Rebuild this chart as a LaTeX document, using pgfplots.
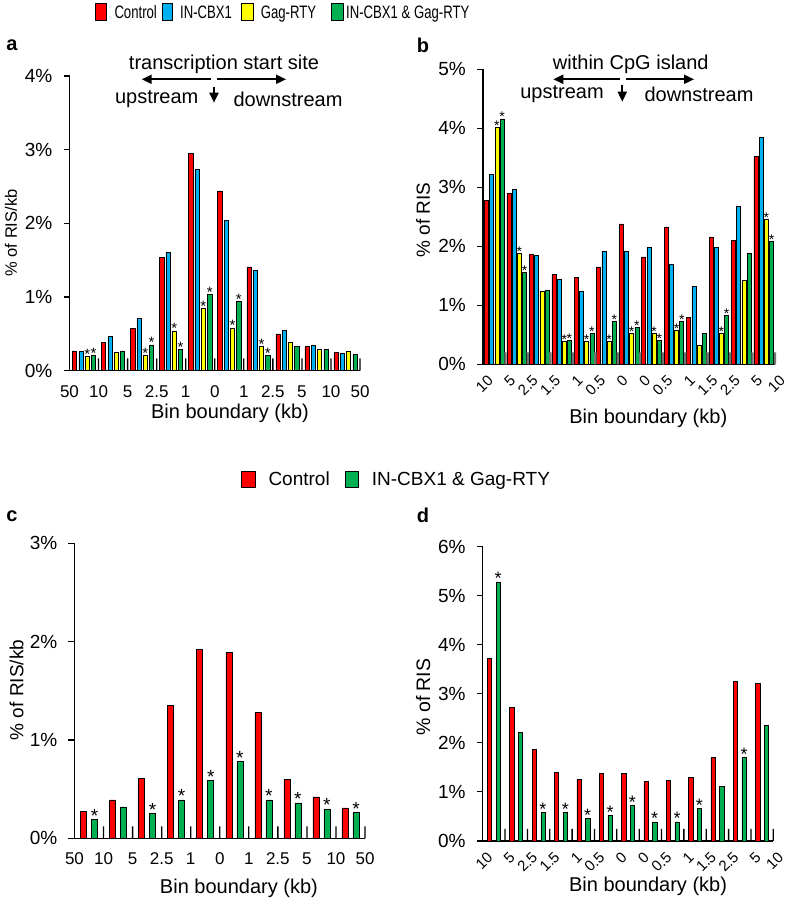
\documentclass[border=0pt]{standalone}
\usepackage{fontspec}
\setmainfont{Liberation Sans}
\usepackage{graphicx}
\usepackage{pgfplots}
\pgfplotsset{compat=1.18}
\usetikzlibrary{arrows.meta}
\definecolor{ctrl}{HTML}{FF0000}
\definecolor{cbx}{HTML}{00B0F0}
\definecolor{gag}{HTML}{FFFF00}
\definecolor{both}{HTML}{00B050}
\newcommand\fs[1]{\fontsize{#1}{#1}\selectfont}

\pgfplotsset{
  panel/.style={
    scale only axis, clip=false,
    axis x line*=bottom, axis y line*=left,
    xmin=0, ymin=0,
    axis line style={line width=1.1pt},
    tick style={black, line width=1.1pt},
    tick align=outside, major tick length=6pt,
    xtick style={draw=none},
    /pgf/number format/assume math mode=true,
    yticklabel style={font=\fs{19}, anchor=east, inner sep=0pt, xshift=-11pt},
    xticklabel style={font=\fs{17}, anchor=north, inner sep=0pt, yshift=-8.5pt},
    xlabel style={font=\fs{20}, anchor=center},
    ylabel style={anchor=center},
  },
  rotlabels/.style={
    xticklabel style={font=\fs{15}, rotate=45, anchor=north east, inner sep=0pt, xshift=6pt, yshift=1pt},
  },
  bars/.style 2 args={ybar, draw=black, line width=0.5pt, fill=#1, bar shift=#2,
    nodes near coords, point meta=explicit symbolic,
    every node near coord/.append style={anchor=south, inner sep=0pt, yshift=-3.2pt, xshift=#2, black}},
  sep/.style={ybar, bar shift=0pt, draw=none, forget plot},
}

\begin{document}
\begin{tikzpicture}
\useasboundingbox (0pt,0pt) rectangle (787pt,901pt);

% legend, top
\draw[fill=ctrl, line width=0.6pt] (95pt,881pt) rectangle (106pt,897.7pt);
\node[anchor=base west, inner sep=0pt, font=\fs{18}] at (114.3pt,882.6pt) {\scalebox{0.73}[1]{Control}};
\draw[fill=cbx, line width=0.6pt] (162.3pt,881pt) rectangle (172.7pt,897.7pt);
\node[anchor=base west, inner sep=0pt, font=\fs{18}] at (180pt,882.6pt) {\scalebox{0.73}[1]{IN-CBX1}};
\draw[fill=gag, line width=0.6pt] (241.7pt,881pt) rectangle (253.3pt,897.7pt);
\node[anchor=base west, inner sep=0pt, font=\fs{18}] at (260.7pt,882.6pt) {\scalebox{0.73}[1]{Gag-RTY}};
\draw[fill=both, line width=0.6pt] (331.7pt,881pt) rectangle (343.3pt,897.7pt);
\node[anchor=base west, inner sep=0pt, font=\fs{18}] at (346pt,882.6pt) {\scalebox{0.73}[1]{IN-CBX1 \& Gag-RTY}};

% panel a
\begin{axis}[panel, at={(69.5pt,530.3pt)}, anchor=south west,
  width=290.5pt, height=294.7pt, xmax=10, ymax=4,
  ytick={0,1,2,3,4}, yticklabels={0\%,1\%,2\%,3\%,4\%},
  xtick={0,...,10}, xticklabels={50,10,5,2.5,1,0,1,2.5,5,10,50},
  xlabel={Bin boundary (kb)}, xlabel style={at={(axis description cs:0.5525,-0.143)}},
  ylabel={\% of RIS/kb}, ylabel style={font=\fs{16.5}, at={(axis description cs:-0.2014,0.4673)}},
  every node near coord/.append style={font=\fs{15}},
]
\addplot[bars={ctrl}{-9.45pt}, bar width=4.2pt] coordinates {
 (0.5,0.27) [] (1.5,0.38) [] (2.5,0.57) [] (3.5,1.54) [] (4.5,2.95) []
 (5.5,2.44) [] (6.5,1.41) [] (7.5,0.50) [] (8.5,0.33) [] (9.5,0.25) []};
\addplot[bars={cbx}{-3.15pt}, bar width=4.2pt] coordinates {
 (0.5,0.26) [] (1.5,0.47) [] (2.5,0.71) [] (3.5,1.61) [] (4.5,2.73) []
 (5.5,2.04) [] (6.5,1.36) [] (7.5,0.55) [] (8.5,0.34) [] (9.5,0.24) []};
\addplot[bars={gag}{3.15pt}, bar width=4.2pt] coordinates {
 (0.5,0.19) [*] (1.5,0.25) [] (2.5,0.21) [*] (3.5,0.54) [*] (4.5,0.85) [*]
 (5.5,0.58) [*] (6.5,0.33) [*] (7.5,0.39) [] (8.5,0.29) [] (9.5,0.27) []};
\addplot[bars={both}{9.45pt}, bar width=4.2pt] coordinates {
 (0.5,0.21) [*] (1.5,0.27) [] (2.5,0.35) [*] (3.5,0.29) [*] (4.5,1.04) [*]
 (5.5,0.94) [*] (6.5,0.21) [*] (7.5,0.33) [] (8.5,0.29) [] (9.5,0.22) []};
\addplot[sep, fill=black, bar width=1.3pt] coordinates {
 (1,0.167) (2,0.167) (3,0.167) (4,0.167) (5,0.167) (6,0.167) (7,0.167) (8,0.167) (9,0.167) (10,0.167)};
\end{axis}

% panel b
\begin{axis}[panel, rotlabels, at={(483pt,536.7pt)}, anchor=south west,
  width=292pt, height=295pt, xmax=13, ymax=5,
  ytick={0,1,2,3,4,5}, yticklabels={0\%,1\%,2\%,3\%,4\%,5\%},
  xtick={0,...,13}, xticklabels={10,5,2.5,1.5,1,0.5,0,0,0.5,1,1.5,2.5,5,10},
  xlabel={Bin boundary (kb)}, xlabel style={at={(axis description cs:0.566,-0.183)}},
  ylabel={\% of RIS}, ylabel style={font=\fs{19}, at={(axis description cs:-0.2055,0.489)}},
  every node near coord/.append style={font=\fs{14}},
]
\addplot[bars={ctrl}{-7.8pt}, bar width=4pt] coordinates {
 (0.5,2.78) [] (1.5,2.90) [] (2.5,1.87) [] (3.5,1.53) [] (4.5,1.47) [] (5.5,1.65) [] (6.5,2.38) []
 (7.5,1.82) [] (8.5,2.33) [] (9.5,0.80) [] (10.5,2.16) [] (11.5,2.10) [] (12.5,3.53) []};
\addplot[bars={cbx}{-2.6pt}, bar width=4pt] coordinates {
 (0.5,3.22) [] (1.5,2.97) [] (2.5,1.84) [] (3.5,1.44) [] (4.5,1.23) [] (5.5,1.92) [] (6.5,1.92) []
 (7.5,1.98) [] (8.5,1.69) [] (9.5,1.32) [] (10.5,1.98) [] (11.5,2.68) [] (12.5,3.85) []};
\addplot[bars={gag}{2.6pt}, bar width=4pt] coordinates {
 (0.5,4.02) [*] (1.5,1.88) [*] (2.5,1.24) [] (3.5,0.39) [*] (4.5,0.39) [*] (5.5,0.39) [*] (6.5,0.52) [*]
 (7.5,0.52) [*] (8.5,0.58) [*] (9.5,0.32) [] (10.5,0.52) [*] (11.5,1.43) [] (12.5,2.46) [*]};
\addplot[bars={both}{7.8pt}, bar width=4pt] coordinates {
 (0.5,4.16) [*] (1.5,1.56) [*] (2.5,1.25) [] (3.5,0.41) [*] (4.5,0.52) [*] (5.5,0.73) [*] (6.5,0.62) [*]
 (7.5,0.41) [*] (8.5,0.73) [*] (9.5,0.52) [] (10.5,0.83) [*] (11.5,1.88) [] (12.5,2.08) [*]};
\addplot[sep, fill=black!55, bar width=2.4pt] coordinates {
 (1,0.2) (2,0.2) (3,0.2) (4,0.2) (5,0.2) (6,0.2) (7,0.2) (8,0.2) (9,0.2) (10,0.2) (11,0.2) (12,0.2) (13,0.2)};
\end{axis}

% panel c
\begin{axis}[panel, at={(74.5pt,62.7pt)}, anchor=south west,
  width=290.5pt, height=295pt, xmax=10, ymax=3,
  ytick={0,1,2,3}, yticklabels={0\%,1\%,2\%,3\%},
  xtick={0,...,10}, xticklabels={50,10,5,2.5,1,0,1,2.5,5,10,50},
  xlabel={Bin boundary (kb)}, xlabel style={at={(axis description cs:0.566,-0.1695)}},
  ylabel={\% of RIS/kb}, ylabel style={font=\fs{19}, at={(axis description cs:-0.199,0.5027)}},
  every node near coord/.append style={font=\fs{19}},
]
\addplot[bars={ctrl}{-5.5pt}, bar width=6pt] coordinates {
 (0.5,0.27) [] (1.5,0.39) [] (2.5,0.61) [] (3.5,1.35) [] (4.5,1.92) []
 (5.5,1.89) [] (6.5,1.28) [] (7.5,0.60) [] (8.5,0.42) [] (9.5,0.31) []};
\addplot[bars={both}{5.5pt}, bar width=6pt] coordinates {
 (0.5,0.19) [*] (1.5,0.32) [] (2.5,0.25) [*] (3.5,0.39) [*] (4.5,0.59) [*]
 (5.5,0.78) [*] (6.5,0.39) [*] (7.5,0.36) [*] (8.5,0.30) [*] (9.5,0.26) [*]};
\addplot[sep, fill=black, bar width=1.3pt] coordinates {
 (1,0.12) (2,0.12) (3,0.12) (4,0.12) (5,0.12) (6,0.12) (7,0.12) (8,0.12) (9,0.12) (10,0.12)};
\end{axis}

% panel d
\begin{axis}[panel, rotlabels, at={(482.7pt,60pt)}, anchor=south west,
  width=290.6pt, height=294.3pt, xmax=13, ymax=6,
  ytick={0,1,2,3,4,5,6}, yticklabels={0\%,1\%,2\%,3\%,4\%,5\%,6\%},
  xtick={0,...,13}, xticklabels={10,5,2.5,1.5,1,0.5,0,0,0.5,1,1.5,2.5,5,10},
  xlabel={Bin boundary (kb)}, xlabel style={at={(axis description cs:0.569,-0.155)}},
  ylabel={\% of RIS}, ylabel style={font=\fs{19.5}, at={(axis description cs:-0.205,0.489)}},
  every node near coord/.append style={font=\fs{18}},
]
\addplot[bars={ctrl}{-4.35pt}, bar width=4.3pt] coordinates {
 (0.5,3.72) [] (1.5,2.73) [] (2.5,1.87) [] (3.5,1.40) [] (4.5,1.26) [] (5.5,1.38) [] (6.5,1.38) []
 (7.5,1.21) [] (8.5,1.23) [] (9.5,1.30) [] (10.5,1.71) [] (11.5,3.25) [] (12.5,3.22) []};
\addplot[bars={both}{4.35pt}, bar width=4.3pt] coordinates {
 (0.5,5.28) [*] (1.5,2.22) [] (2.5,0.59) [*] (3.5,0.59) [*] (4.5,0.46) [*] (5.5,0.52) [*] (6.5,0.72) [*]
 (7.5,0.39) [*] (8.5,0.39) [*] (9.5,0.66) [*] (10.5,1.11) [] (11.5,1.70) [*] (12.5,2.35) []};
\addplot[sep, fill=black, bar width=1.3pt] coordinates {
 (1,0.245) (2,0.245) (3,0.245) (4,0.245) (5,0.245) (6,0.245) (7,0.245) (8,0.245) (9,0.245) (10,0.245) (11,0.245) (12,0.245) (13,0.245)};
\end{axis}

% arrows and captions above panels a and b
\begin{scope}[line width=2pt, arrows={-{Triangle[length=10pt,width=9pt]}}]
\draw (210.7pt,821.7pt) -- (141.7pt,821.7pt);
\draw (217pt,821.7pt) -- (286pt,821.7pt);
\draw (214pt,814.3pt) -- (214pt,798.3pt);
\draw (620pt,821.7pt) -- (553.3pt,821.7pt);
\draw (626pt,821.7pt) -- (694pt,821.7pt);
\draw (622.3pt,816pt) -- (622.3pt,799.3pt);
\end{scope}
\node[font=\fs{20}] at (224pt,837pt) {transcription start site};
\node[font=\fs{20}] at (156.7pt,801.5pt) {upstream};
\node[font=\fs{20}] at (288pt,801.5pt) {downstream};
\node[font=\fs{20}] at (630.8pt,837pt) {within CpG island};
\node[font=\fs{20}] at (562pt,806.5pt) {upstream};
\node[font=\fs{20}] at (699pt,806.5pt) {downstream};

% panel letters
\node[font=\bfseries\fs{20}] at (12pt,856pt) {a};
\node[font=\bfseries\fs{20}] at (423pt,856pt) {b};
\node[font=\bfseries\fs{20}] at (12pt,385pt) {c};
\node[font=\bfseries\fs{20}] at (423pt,386pt) {d};

% legend, bottom
\draw[fill=ctrl, line width=0.6pt] (241.7pt,414pt) rectangle (255pt,429.7pt);
\node[anchor=base west, inner sep=0pt, font=\fs{19}] at (268.3pt,415.2pt) {Control};
\draw[fill=both, line width=0.6pt] (345pt,414pt) rectangle (358.3pt,429.7pt);
\node[anchor=base west, inner sep=0pt, font=\fs{19}] at (371.7pt,415.2pt) {IN-CBX1 \& Gag-RTY};
\end{tikzpicture}
\end{document}
